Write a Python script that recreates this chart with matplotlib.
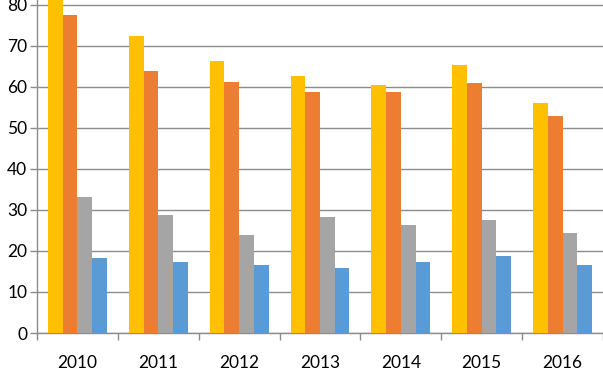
import matplotlib
matplotlib.use("Agg")
import matplotlib.pyplot as plt
import numpy as np

years = ["2010", "2011", "2012", "2013", "2014", "2015", "2016"]
s1 = [81.2, 72.4, 66.3, 62.7, 60.5, 65.4, 56.1]
s2 = [77.6, 63.9, 61.2, 58.8, 58.8, 61.0, 52.9]
s3 = [33.2, 28.8, 23.9, 28.3, 26.3, 27.6, 24.4]
s4 = [18.3, 17.3, 16.6, 15.9, 17.3, 18.8, 16.6]
colors = ["#FFC000", "#ED7D31", "#A5A5A5", "#5B9BD5"]
yticks = [0, 10, 20, 30, 40, 50, 60, 70, 80]

plt.rcParams['font.family'] = ['Lato', 'DejaVu Sans']
fig = plt.figure(figsize=(6.03, 3.73), dpi=100)
ax = fig.add_axes([37/603, 40/373, 566/603, 333/373])

x = np.arange(len(years))
w = 0.182
for i, (s, c) in enumerate(zip([s1, s2, s3, s4], colors)):
    ax.bar(x + (i - 1.5) * w, s, width=w, color=c, zorder=3, clip_on=False)

ax.set_xlim(-0.5, len(years) - 0.5)
ax.set_ylim(0, 81.2)
ax.set_yticks(yticks)
ax.set_yticklabels([str(v) for v in yticks])
ax.yaxis.grid(True, color="#8C8C8C", linewidth=1.0, zorder=0)
ax.set_xticks(x)
ax.set_xticklabels(years)
ax.set_xticks(np.arange(-0.5, len(years)), minor=True)
ax.tick_params(axis='x', which='major', length=0, pad=16, labelsize=12.5)
ax.tick_params(axis='x', which='minor', length=5, color="#8C8C8C", width=1)
ax.tick_params(axis='y', length=5, color="#8C8C8C", width=1, pad=2, labelsize=12.5)
for sp in ["top", "right"]:
    ax.spines[sp].set_visible(False)
for sp in ["left", "bottom"]:
    ax.spines[sp].set_color("#8C8C8C")
    ax.spines[sp].set_linewidth(1)

fig.savefig("out.png", dpi=100)
